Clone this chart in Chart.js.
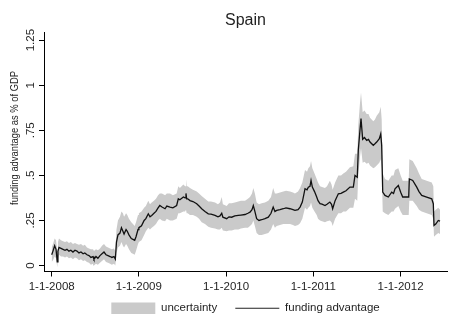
<!DOCTYPE html>
<html><head><meta charset="utf-8">
<script src="https://cdn.jsdelivr.net/npm/chart.js@4.4.1/dist/chart.umd.min.js"></script>
<style>html,body{margin:0;padding:0;background:#fff;} canvas{display:block;}</style>
</head><body>
<canvas id="c" width="462" height="328"></canvas>
<script>
const chartTitle = 'Spain';
const yAxisTitle = 'funding advantage as % of GDP';
const seriesNames = ['uncertainty', 'funding advantage'];
const xTickValues = [2008, 2009, 2010, 2011, 2012];
const xTickLabels = ['1-1-2008', '1-1-2009', '1-1-2010', '1-1-2011', '1-1-2012'];
const yTickValues = [0, 0.25, 0.5, 0.75, 1, 1.25];
const yTickLabels = ['0', '.25', '.5', '.75', '1', '1.25'];

// dates as decimal years
const dates = [
2008.000,2008.015,2008.034,2008.050,2008.064,2008.072,2008.084,2008.107,2008.130,2008.153,2008.175,2008.198,2008.220,2008.244,2008.267,2008.290,2008.313,2008.336,2008.360,2008.380,2008.405,2008.428,2008.450,2008.474,2008.485,2008.508,2008.530,2008.554,2008.577,2008.600,2008.623,2008.646,2008.670,2008.690,2008.714,2008.730,2008.743,2008.760,2008.783,2008.800,2008.817,2008.830,2008.853,2008.867,2008.886,2008.913,2008.932,2008.952,2008.967,2008.990,
2009.000,2009.030,2009.060,2009.080,2009.108,2009.127,2009.147,2009.173,2009.196,2009.220,2009.240,2009.265,2009.300,2009.320,2009.357,2009.390,2009.433,2009.452,2009.470,2009.510,2009.530,2009.540,2009.548,2009.560,2009.586,2009.620,2009.663,2009.690,2009.720,2009.758,2009.796,2009.827,2009.873,2009.907,2009.930,2009.950,2009.963,
2010.007,2010.033,2010.064,2010.100,2010.140,2010.170,2010.217,2010.250,2010.274,2010.297,2010.312,2010.330,2010.350,2010.377,2010.408,2010.446,2010.484,2010.515,2010.540,2010.560,2010.580,2010.618,2010.656,2010.687,2010.733,2010.767,2010.790,2010.825,2010.848,2010.874,2010.905,2010.928,2010.943,2010.962,2010.974,2010.989,
2011.014,2011.039,2011.054,2011.077,2011.100,2011.134,2011.157,2011.190,2011.209,2011.222,2011.250,2011.287,2011.318,2011.344,2011.375,2011.420,2011.459,2011.478,2011.504,2011.516,2011.535,2011.547,2011.566,2011.587,2011.612,2011.633,2011.650,2011.688,2011.707,2011.727,2011.757,2011.773,2011.784,2011.796,2011.822,2011.860,2011.899,2011.920,2011.937,2011.975,
2012.002,2012.025,2012.063,2012.094,2012.101,2012.140,2012.186,2012.212,2012.243,2012.300,2012.358,2012.376,2012.384,2012.404,2012.433,2012.453
];

const advantage = [
.06,.08,.11,.09,.02,.08,.10,.095,.09,.085,.09,.08,.085,.075,.085,.08,.07,.075,.065,.07,.06,.055,.045,.05,.035,.05,.04,.055,.065,.075,.06,.055,.05,.045,.05,.035,.13,.17,.18,.21,.19,.175,.20,.19,.17,.15,.145,.14,.16,.20,
.21,.22,.25,.26,.287,.27,.278,.29,.30,.32,.333,.325,.315,.33,.324,.32,.333,.37,.365,.38,.375,.40,.37,.37,.36,.355,.343,.33,.315,.30,.287,.285,.278,.27,.275,.29,.268,
.26,.27,.268,.275,.278,.28,.283,.29,.296,.31,.333,.30,.26,.25,.254,.26,.268,.29,.324,.30,.306,.31,.315,.32,.315,.31,.306,.31,.324,.352,.426,.42,.435,.44,.472,.435,
.41,.38,.36,.343,.34,.333,.34,.352,.34,.315,.36,.398,.40,.407,.415,.435,.435,.50,.49,.64,.75,.815,.70,.71,.694,.70,.685,.667,.675,.685,.704,.73,.667,.407,.389,.38,.407,.40,.426,.444,
.407,.38,.38,.38,.48,.472,.435,.41,.389,.38,.37,.343,.222,.23,.25,.246
];

const lower = [
.02,.03,.05,.04,-.01,.04,.06,.05,.05,.045,.05,.04,.045,.035,.045,.04,.03,.035,.025,.03,.02,.015,.005,.01,.00,.01,.005,.015,.025,.035,.02,.015,.01,.005,.01,.00,.07,.10,.11,.13,.11,.10,.12,.11,.09,.07,.065,.06,.08,.12,
.13,.14,.17,.19,.21,.20,.21,.22,.23,.25,.26,.25,.245,.26,.25,.25,.26,.29,.29,.30,.30,.31,.29,.29,.28,.28,.27,.26,.24,.23,.215,.21,.205,.20,.20,.21,.195,
.19,.195,.195,.20,.20,.205,.21,.21,.22,.23,.25,.22,.18,.17,.17,.175,.18,.20,.23,.21,.22,.225,.23,.23,.23,.225,.22,.225,.235,.26,.32,.31,.32,.33,.35,.32,
.30,.28,.26,.25,.245,.24,.245,.25,.24,.22,.26,.29,.29,.30,.30,.32,.32,.37,.36,.50,.60,.65,.57,.575,.565,.57,.555,.54,.545,.555,.57,.59,.54,.30,.29,.28,.30,.30,.315,.33,
.30,.28,.28,.28,.36,.36,.33,.31,.30,.29,.28,.26,.16,.17,.18,.175
];

const upper = [
.10,.12,.15,.14,.08,.13,.15,.14,.135,.13,.135,.125,.13,.12,.125,.12,.115,.12,.11,.115,.10,.095,.09,.09,.08,.09,.085,.095,.11,.12,.105,.10,.095,.09,.095,.08,.20,.25,.27,.30,.29,.27,.29,.28,.26,.24,.23,.22,.24,.28,
.29,.30,.32,.33,.36,.34,.35,.36,.37,.39,.40,.40,.39,.40,.40,.39,.40,.44,.43,.45,.44,.48,.44,.44,.43,.42,.41,.40,.385,.37,.355,.355,.35,.34,.35,.38,.34,
.33,.345,.345,.35,.355,.36,.36,.37,.38,.40,.43,.40,.35,.34,.345,.35,.36,.38,.43,.40,.40,.405,.41,.415,.41,.405,.40,.41,.43,.46,.53,.52,.54,.55,.58,.54,
.51,.48,.46,.44,.435,.43,.44,.47,.45,.42,.46,.50,.50,.51,.52,.545,.55,.62,.62,.78,.90,.96,.85,.86,.84,.84,.82,.80,.81,.83,.85,.88,.81,.51,.48,.47,.50,.50,.53,.54,
.50,.47,.47,.47,.59,.58,.54,.51,.48,.47,.46,.44,.30,.31,.32,.31
];

const FONT = '"Liberation Sans", Arial, sans-serif';
const INK = '#1f1f1f';
const BAND = '#cacaca';
const pts = arr => dates.map((d, i) => ({x: d, y: arr[i]}));

const bgPlugin = {
  id: 'bg',
  beforeDraw(chart) {
    const c = chart.ctx; c.save(); c.fillStyle = '#fff';
    c.fillRect(0, 0, chart.width, chart.height); c.restore();
  }
};

// let x tick labels extend below the (deliberately short) x scale box
const labelRoomPlugin = {
  id: 'labelRoom',
  afterLayout(chart) {
    const s = chart.scales.x;
    s.bottom = s.top + 26;
  }
};

const yLabelPlugin = {
  id: 'yLabels',
  afterDraw(chart) {
    const s = chart.scales.y; const c = chart.ctx;
    c.save();
    c.fillStyle = INK; c.textAlign = 'center'; c.textBaseline = 'middle';
    c.font = '11.5px ' + FONT;
    s.ticks.forEach(t => {
      const idx = yTickValues.indexOf(t.value);
      if (idx < 0) return;
      const y = s.getPixelForValue(t.value);
      c.save(); c.translate(31, y); c.rotate(-Math.PI / 2);
      c.fillText(yTickLabels[idx], 0, 0); c.restore();
    });
    c.font = '10.6px ' + FONT;
    c.save(); c.translate(15, 138); c.rotate(-Math.PI / 2); c.scale(0.885, 1);
    c.fillText(yAxisTitle, 0, 0); c.restore();
    c.restore();
  }
};

new Chart(document.getElementById('c'), {
  type: 'line',
  data: {
    datasets: [
      {label: seriesNames[1], data: pts(advantage), borderWidth: 1.3, borderColor: '#111', pointRadius: 0, fill: false},
      {label: 'lower', data: pts(lower), borderWidth: 0, borderColor: 'rgba(0,0,0,0)', pointRadius: 0, fill: false},
      {label: seriesNames[0], data: pts(upper), borderWidth: 0, borderColor: 'rgba(0,0,0,0)', backgroundColor: BAND, pointRadius: 0, fill: '-1'}
    ]
  },
  options: {
    responsive: false,
    animation: false,
    devicePixelRatio: 1,
    layout: {padding: {left: 0, right: 15, top: 0, bottom: 4}},
    elements: {line: {tension: 0}},
    plugins: {
      title: {display: true, text: chartTitle, fullSize: false, color: INK,
        font: {family: FONT, size: 16, weight: 'normal'}, padding: {top: 11, bottom: 2}},
      legend: {
        position: 'bottom', fullSize: false,
        labels: {
          usePointStyle: true, pointStyleWidth: 44, boxHeight: 12, padding: 18,
          color: INK, font: {family: FONT, size: 11.5},
          generateLabels: () => [
            {text: seriesNames[0], fillStyle: BAND, strokeStyle: BAND, lineWidth: 0, pointStyle: 'rect', datasetIndex: 2, hidden: false, fontColor: INK},
            {text: seriesNames[1], fillStyle: '#222', strokeStyle: '#222', lineWidth: 1.2, pointStyle: 'line', datasetIndex: 0, hidden: false, fontColor: INK}
          ]
        }
      },
      tooltip: {enabled: false}
    },
    scales: {
      x: {
        type: 'linear', min: 2007.912, max: 2012.533,
        afterBuildTicks: s => { s.ticks = xTickValues.map(v => ({value: v})); },
        afterFit: s => { s.height = 13; },
        ticks: {callback: v => xTickLabels[xTickValues.indexOf(v)], color: INK,
          font: {family: FONT, size: 11.5}, padding: 3, maxRotation: 0, autoSkip: false},
        grid: {drawOnChartArea: false, drawTicks: true, tickLength: 5, color: '#000'},
        border: {display: true, color: '#000', width: 1}
      },
      y: {
        type: 'linear', min: -0.033, max: 1.294,
        afterBuildTicks: s => { s.ticks = yTickValues.map(v => ({value: v})); },
        afterFit: s => { s.width = 44; },
        ticks: {display: false},
        grid: {drawOnChartArea: false, drawTicks: true, tickLength: 5, color: '#000'},
        border: {display: true, color: '#000', width: 1}
      }
    }
  },
  plugins: [bgPlugin, labelRoomPlugin, yLabelPlugin]
});
</script>
</body></html>
